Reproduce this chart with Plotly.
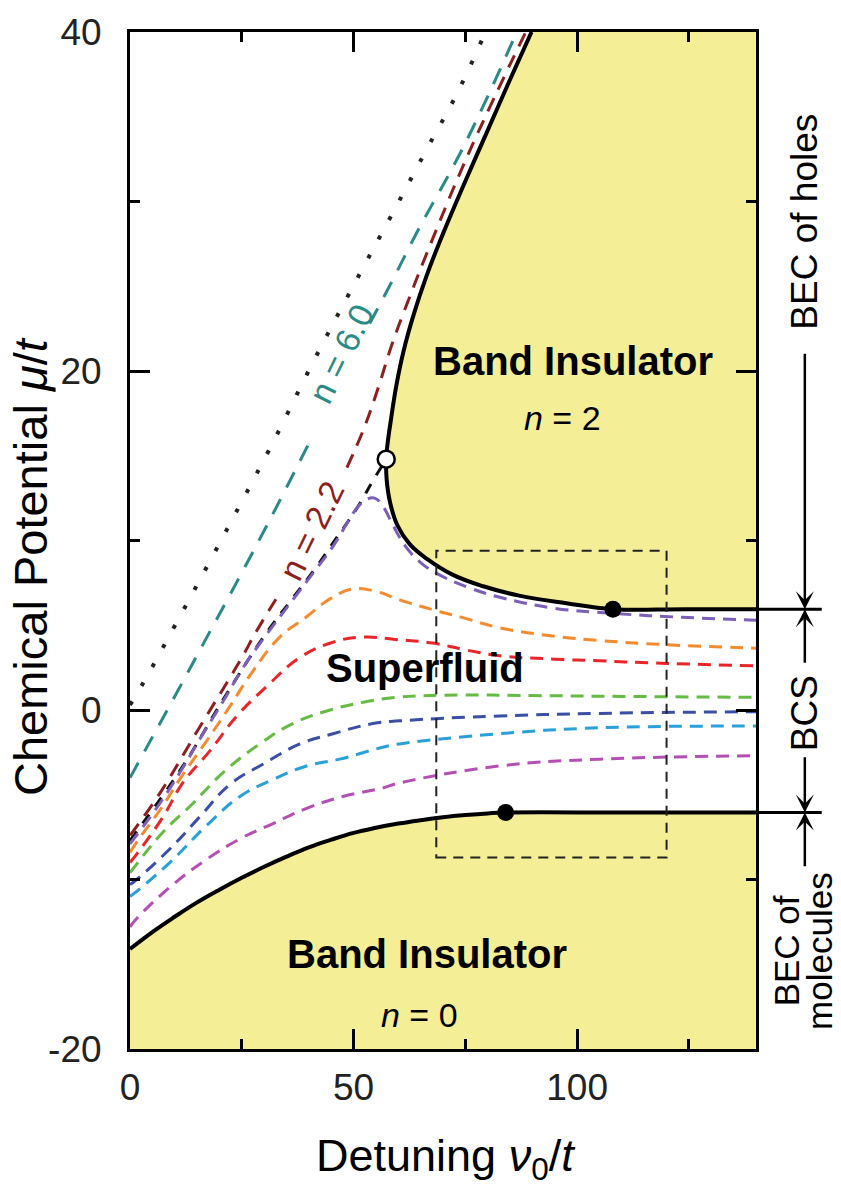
import plotly.graph_objects as go

# ---------------- data (detuning nu0/t , chemical potential mu/t) ----------------
X_RANGE = [0, 140]
Y_RANGE = [-20, 40]
X_TICKS = [0, 50, 100]
X_TICK_TEXT = ["0", "50", "100"]
X_MINOR = [25, 75, 125]
Y_TICKS = [-20, 0, 20, 40]
Y_TICK_TEXT = ["-20", "0", "20", "40"]
Y_MINOR = [-10, 10, 30]

MU_HOLES = 5.95       # upper band-insulator edge (BEC of holes / BCS)
MU_MOLECULES = -6.05  # lower band-insulator edge (BCS / BEC of molecules)

# upper (n = 2) band-insulator boundary
UPPER_X = [89.8, 84.5, 79.5, 74.5, 70.0, 66.3, 63.4, 61.2, 59.6, 58.4, 57.6, 57.3, 57.4,
           58.2, 59.8, 62.5, 66.5, 72.0, 79.0, 87.0, 97.6, 108.0, 124.0, 140.0]
UPPER_Y = [40.0, 36.9, 33.9, 30.9, 28.1, 25.6, 23.3, 21.2, 19.2, 17.2, 15.7, 14.8, 13.6,
           12.2, 10.9, 9.8, 8.9, 8.0, 7.3, 6.75, 6.3, MU_HOLES, MU_HOLES, MU_HOLES]

# lower (n = 0) band-insulator boundary
LOWER_X = [0, 5, 10, 15, 20, 25, 30, 35, 40, 45, 50, 55, 60, 65, 70, 75, 80, 84.0, 112.0, 140.0]
LOWER_Y = [-14.1, -13.1, -12.2, -11.35, -10.6, -9.9, -9.25, -8.65, -8.1, -7.65, -7.25,
           -6.95, -6.7, -6.5, -6.33, -6.2, -6.1, MU_MOLECULES, MU_MOLECULES, MU_MOLECULES]

# critical points
OPEN_PT = (57.3, 14.8)
DOT_HOLES = (108.0, MU_HOLES)
DOT_MOLECULES = (84.0, MU_MOLECULES)

# dotted reference line
DOTTED_X = [0, 3.4, 10.5, 17.5, 24.6, 32.0, 40.9, 50.3, 58.5, 66.8, 73.0, 79.5]
DOTTED_Y = [0.3, 1.8, 5.2, 8.6, 12.1, 15.8, 20.5, 25.2, 29.2, 33.3, 36.3, 40.0]

# constant-density curves
N60_X = [0, 5.0, 10.0, 17.2, 24.6, 32.8, 40.9, None, 53.6, 58.8, 64.0, 74.9, 86.5]
N60_Y = [-4.0, -1.6, 0.8, 4.3, 7.9, 12.0, 16.2, None, 22.8, 25.4, 28.1, 33.4, 40.0]

N22_X = [0, 6.7, 15.6, 24.6, 28.4, 33.5, None, 48.5, 52.3, 55.5, 58.5, 62.0, 68.0, 76.0, 88.5]
N22_Y = [-7.4, -4.9, -1.0, 2.9, 4.7, 6.9, None, 14.3, 16.6, 19.0, 21.5, 24.0, 28.0, 33.0, 40.0]

N20_X = [0, 11.6, 20.8, 30.1, 36.4, 41.3, 46.3, 50.5, 54.5, 57.3]
N20_Y = [-7.7, -3.4, 0.6, 4.4, 6.6, 8.3, 10.2, 11.8, 13.6, 14.8]

PURPLE_X = [0, 6.7, 11.6, 16.1, 20.8, 25.3, 30.1, 36.4, 41.3, 45.5, 48.5, 50.7, 52.8, 54.7,
            56.6, 58.8, 61.5, 65.0, 69.0, 76.0, 82.7, 95.0, 108.0, 125.0, 140.0]
PURPLE_Y = [-7.9, -5.5, -3.5, -1.5, 0.5, 2.5, 4.3, 6.5, 8.2, 9.7, 11.0, 11.9, 12.4, 12.5,
            12.0, 10.9, 9.7, 8.7, 8.0, 7.2, 6.65, 6.0, 5.7, 5.45, 5.3]

ORANGE_X = [0, 2.0, 6.7, 11.6, 17.2, 22.3, 27.5, 33.5, 39.5, 45.0, 50.0, 55.0, 60.3, 69.3,
            74.4, 82.7, 95.0, 105.0, 120.0, 140.0]
ORANGE_Y = [-8.4, -7.6, -5.9, -3.9, -1.8, 0.2, 2.3, 4.3, 5.5, 6.6, 7.15, 7.0, 6.5, 5.8,
            5.45, 4.85, 4.35, 4.1, 3.85, 3.65]

RED_X = [0, 1.8, 7.4, 11.8, 17.9, 23.9, 30.6, 38.0, 45.4, 52.1, 59.7, 67.7, 75.0, 82.7,
         95.0, 105.0, 120.0, 140.0]
RED_Y = [-9.0, -8.4, -6.3, -4.3, -2.4, -0.35, 1.4, 3.1, 4.0, 4.3, 4.15, 3.95, 3.55, 3.2,
         3.0, 2.9, 2.75, 2.6]

GREEN_X = [0, 7.4, 14.1, 20.8, 29.0, 36.4, 44.0, 52.0, 60.3, 73.7, 90.0, 110.0, 140.0]
GREEN_Y = [-9.6, -7.2, -5.5, -3.7, -2.0, -0.8, -0.06, 0.45, 0.76, 0.88, 0.85, 0.8, 0.75]

BLUE_X = [0, 1.5, 8.9, 15.6, 22.3, 29.7, 38.0, 45.4, 54.3, 60.3, 82.7, 105.0, 140.0]
BLUE_Y = [-10.3, -10.0, -8.2, -6.3, -4.4, -3.2, -2.0, -1.4, -0.8, -0.64, -0.35, -0.2, -0.1]

CYAN_X = [0, 1.5, 8.9, 17.2, 24.6, 32.0, 39.5, 46.9, 56.5, 60.3, 82.7, 105.0, 140.0]
CYAN_Y = [-11.0, -10.7, -9.0, -6.8, -5.1, -4.1, -3.3, -2.9, -2.2, -2.0, -1.4, -1.05, -0.95]

MAGENTA_X = [0, 1.5, 9.6, 17.2, 24.6, 32.0, 39.5, 47.6, 56.5, 60.3, 82.7, 105.0, 140.0]
MAGENTA_Y = [-12.8, -12.3, -10.3, -8.8, -7.6, -6.7, -5.8, -5.1, -4.6, -4.3, -3.3, -2.9, -2.7]

# dashed inset frame (nu0/t, mu/t)
BOX_X = [68.5, 120.0]
BOX_Y = [-8.7, 9.4]

# ---------------- styling ----------------
FONT = "Liberation Sans, Arial, Helvetica, sans-serif"
YELLOW = "#f4ee96"
C_TEAL = "#2a8a88"
C_DARKRED = "#8e1f1f"
C_PURPLE = "#7b5fb8"
C_ORANGE = "#f58a2e"
C_RED = "#e8262a"
C_GREEN = "#66bb44"
C_BLUE = "#3a4fa5"
C_CYAN = "#2aa0d8"
C_MAGENTA = "#b44fb4"
SMOOTH = 1.2

fig = go.Figure()


def curve(x, y, color, width=3, dash="13px,8px"):
    fig.add_trace(go.Scatter(
        x=x, y=y, mode="lines", connectgaps=False, hoverinfo="skip", showlegend=False,
        line=dict(color=color, width=width, dash=dash, shape="spline", smoothing=SMOOTH)))


# yellow band-insulator regions
fig.add_trace(go.Scatter(x=X_RANGE, y=[Y_RANGE[0]] * 2, mode="lines", line=dict(width=0),
                         hoverinfo="skip", showlegend=False))
fig.add_trace(go.Scatter(x=LOWER_X, y=LOWER_Y, mode="lines", fill="tonexty", fillcolor=YELLOW,
                         line=dict(width=0, shape="spline", smoothing=SMOOTH),
                         hoverinfo="skip", showlegend=False))
fig.add_trace(go.Scatter(x=[UPPER_X[0], X_RANGE[1]], y=[Y_RANGE[1]] * 2, mode="lines",
                         line=dict(width=0), hoverinfo="skip", showlegend=False))
fig.add_trace(go.Scatter(x=UPPER_X, y=UPPER_Y, mode="lines", fill="tonexty", fillcolor=YELLOW,
                         line=dict(width=0, shape="spline", smoothing=SMOOTH),
                         hoverinfo="skip", showlegend=False))

# dotted line and density curves
curve(DOTTED_X, DOTTED_Y, "#222222", width=4, dash="4px,18px")
curve(MAGENTA_X, MAGENTA_Y, C_MAGENTA)
curve(CYAN_X, CYAN_Y, C_CYAN)
curve(BLUE_X, BLUE_Y, C_BLUE)
curve(GREEN_X, GREEN_Y, C_GREEN)
curve(RED_X, RED_Y, C_RED)
curve(ORANGE_X, ORANGE_Y, C_ORANGE)
curve(N20_X, N20_Y, "#111111", dash="11px,10px")
curve(PURPLE_X, PURPLE_Y, C_PURPLE)
curve(N22_X, N22_Y, C_DARKRED, dash="14px,10px")
curve(N60_X, N60_Y, C_TEAL, dash="17px,13px")

# phase boundaries
curve(UPPER_X, UPPER_Y, "black", width=4, dash="solid")
curve(LOWER_X, LOWER_Y, "black", width=4, dash="solid")

fig.add_trace(go.Scatter(x=[DOT_HOLES[0], DOT_MOLECULES[0]], y=[DOT_HOLES[1], DOT_MOLECULES[1]],
                         mode="markers", marker=dict(size=17, color="black"),
                         hoverinfo="skip", showlegend=False))
fig.add_trace(go.Scatter(x=[OPEN_PT[0]], y=[OPEN_PT[1]], mode="markers",
                         marker=dict(size=17, color="white", line=dict(color="black", width=2.5)),
                         hoverinfo="skip", showlegend=False))

fig.add_shape(type="rect", xref="x", yref="y", x0=BOX_X[0], x1=BOX_X[1], y0=BOX_Y[0], y1=BOX_Y[1],
              line=dict(color="#222222", width=2, dash="10px,7px"), layer="above")

# ---------------- text ----------------
ann = []


def label(x, y, text, size=36, color="black", angle=0, xref="x", yref="y", bold=False):
    if bold:
        text = "<b>" + text + "</b>"
    ann.append(dict(x=x, y=y, xref=xref, yref=yref, text=text, showarrow=False, textangle=angle,
                    font=dict(family=FONT, size=size, color=color), xanchor="center", yanchor="middle"))


label(99.0, 20.6, "Band Insulator", size=40, bold=True)
label(96.8, 17.2, "<i>n</i> = 2", size=34)
label(65.9, 2.5, "Superfluid", size=40, bold=True)
label(66.4, -14.4, "Band Insulator", size=40, bold=True)
label(64.8, -18.0, "<i>n</i> = 0", size=34)
label(47.2, 21.0, "n = 6.0", size=34, color=C_TEAL, angle=-64)
label(40.7, 10.6, "n = 2.2", size=34, color=C_DARKRED, angle=-64)

# axis titles
label(-0.158, 0.474, "Chemical Potential <i>\u03bc</i>/<i>t</i>", size=47, angle=-90,
      xref="paper", yref="paper")
label(0.505, -0.108, "Detuning <i>\u03bd</i><sub>0</sub>/<i>t</i>", size=45,
      xref="paper", yref="paper")

# right-hand regime annotations
ARROW_XP = 1.078
for mu in (MU_HOLES, MU_MOLECULES):
    ann.append(dict(x=1.105, y=mu, xref="paper", yref="y", ax=-66, ay=mu, axref="pixel",
                    ayref="y", showarrow=True, arrowhead=0, arrowwidth=3, arrowcolor="black",
                    text="", standoff=0))
for head, tail in ((MU_HOLES, 21.1), (MU_HOLES, 2.7), (MU_MOLECULES, -2.7), (MU_MOLECULES, -9.3)):
    ann.append(dict(x=ARROW_XP, y=head, xref="paper", yref="y", ax=0, ay=tail, axref="pixel",
                    ayref="y", showarrow=True, arrowhead=3, arrowsize=1.2, arrowwidth=2.5,
                    arrowcolor="black", text="", standoff=0))
label(ARROW_XP, 28.8, "BEC of holes", size=37, angle=-90, xref="paper")
label(ARROW_XP, -0.2, "BCS", size=37, angle=-90, xref="paper")
label(1.049, -14.2, "BEC of", size=35, angle=-90, xref="paper")
label(1.101, -14.2, "molecules", size=35, angle=-90, xref="paper")

axis_common = dict(showline=True, linecolor="black", linewidth=3, mirror="ticks", ticks="inside",
                   ticklen=20, tickwidth=3, tickcolor="black", showgrid=False, zeroline=False,
                   tickfont=dict(family=FONT, size=37, color="#222222"))

fig.update_layout(
    width=841, height=1192,
    margin=dict(l=130, r=85, t=21, b=143),
    paper_bgcolor="white", plot_bgcolor="white",
    showlegend=False,
    annotations=ann,
    xaxis=dict(range=X_RANGE, tickvals=X_TICKS, ticktext=X_TICK_TEXT, ticklabelstandoff=4,
               minor=dict(tickvals=X_MINOR, ticks="inside", ticklen=10, tickwidth=3, tickcolor="black"),
               **axis_common),
    yaxis=dict(range=Y_RANGE, tickvals=Y_TICKS, ticktext=Y_TICK_TEXT, ticklabelstandoff=18,
               minor=dict(tickvals=Y_MINOR, ticks="inside", ticklen=10, tickwidth=3, tickcolor="black"),
               **axis_common),
)

fig.write_html("out.html")
